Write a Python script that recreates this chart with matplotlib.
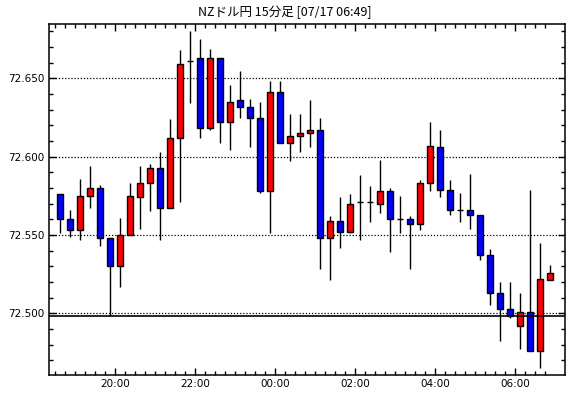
import numpy as np
import pandas as pd
import matplotlib
matplotlib.use("Agg")
import matplotlib.pyplot as plt
from matplotlib.ticker import MultipleLocator, FixedLocator

plt.rcParams['font.family'] = ['Noto Sans CJK JP', 'DejaVu Sans']

# 15-minute candles, 07/16 18:30 .. 07/17 06:45
times = pd.date_range("2024-07-16 18:30", periods=50, freq="15min")

opens = [72.576, 72.560, 72.553, 72.575, 72.580, 72.548, 72.530, 72.550, 72.574, 72.583,
         72.593, 72.567, 72.612, 72.661, 72.663, 72.618, 72.663, 72.622, 72.636, 72.632,
         72.625, 72.578, 72.641, 72.609, 72.613, 72.615, 72.617, 72.548, 72.559, 72.552,
         72.571, 72.571, 72.570, 72.578, 72.560, 72.560, 72.557, 72.583, 72.606, 72.579,
         72.566, 72.566, 72.563, 72.537, 72.513, 72.503, 72.492, 72.501, 72.476, 72.521]
highs = [72.576, 72.566, 72.586, 72.594, 72.582, 72.548, 72.561, 72.583, 72.594, 72.595,
         72.603, 72.624, 72.668, 72.680, 72.675, 72.669, 72.663, 72.646, 72.655, 72.637,
         72.635, 72.648, 72.648, 72.627, 72.627, 72.636, 72.625, 72.562, 72.574, 72.576,
         72.588, 72.581, 72.598, 72.580, 72.575, 72.562, 72.585, 72.622, 72.617, 72.585,
         72.577, 72.589, 72.563, 72.541, 72.520, 72.520, 72.513, 72.579, 72.545, 72.531]
lows = [72.551, 72.549, 72.547, 72.567, 72.543, 72.498, 72.517, 72.550, 72.554, 72.565,
        72.547, 72.571, 72.571, 72.634, 72.612, 72.617, 72.609, 72.604, 72.625, 72.606,
        72.577, 72.551, 72.609, 72.597, 72.603, 72.606, 72.528, 72.521, 72.542, 72.551,
        72.547, 72.558, 72.564, 72.539, 72.551, 72.528, 72.553, 72.578, 72.574, 72.563,
        72.558, 72.554, 72.534, 72.505, 72.482, 72.497, 72.477, 72.476, 72.465, 72.521]
closes = [72.560, 72.553, 72.575, 72.580, 72.548, 72.530, 72.550, 72.575, 72.583, 72.593,
          72.567, 72.612, 72.659, 72.661, 72.618, 72.663, 72.622, 72.635, 72.632, 72.625,
          72.578, 72.641, 72.609, 72.613, 72.615, 72.617, 72.548, 72.559, 72.552, 72.570,
          72.571, 72.571, 72.578, 72.560, 72.560, 72.557, 72.583, 72.607, 72.579, 72.566,
          72.566, 72.563, 72.537, 72.513, 72.503, 72.498, 72.501, 72.476, 72.522, 72.526]

REF_LINE = 72.498
TITLE = "NZドル円 15分足 [07/17 06:49]"

UP_COLOR = "#ff0000"
DOWN_COLOR = "#0000ff"

fig = plt.figure(figsize=(5.70, 3.98), dpi=100)
ax = fig.add_axes([49 / 570, 23 / 398, 516 / 570, 351 / 398])

o = np.array(opens)
c = np.array(closes)
h = np.array(highs)
l = np.array(lows)
x = np.arange(len(o))

# wicks
ax.vlines(x, l, h, color="black", linewidth=1.0, zorder=2)

# bodies
colors = np.where(c > o, UP_COLOR, np.where(c < o, DOWN_COLOR, "black"))
bottoms = np.minimum(o, c)
heights = np.abs(c - o)
ax.bar(x, heights, bottom=bottoms, width=0.6, color=colors,
       edgecolor="black", linewidth=1.0, zorder=3)

# reference line
ax.axhline(REF_LINE, color="black", linewidth=1.2, zorder=4)

# axes
ax.set_xlim(-1.1, 50.5)
ax.set_ylim(72.4606, 72.6847)

major_y = [72.500, 72.550, 72.600, 72.650]
ax.yaxis.set_major_locator(FixedLocator(major_y))
ax.yaxis.set_minor_locator(MultipleLocator(0.01))
ax.set_yticklabels([f"{v:.3f}" for v in major_y])
for v in major_y:
    ax.axhline(v, color="black", linewidth=0.9, linestyle=(0, (1, 1.5)), zorder=1)

major_idx = [i for i, t in enumerate(times) if t.minute == 0 and t.hour % 2 == 0]
ax.xaxis.set_major_locator(FixedLocator([i - 0.5 for i in major_idx]))
ax.xaxis.set_minor_locator(FixedLocator(x - 0.5))
ax.set_xticklabels([times[i].strftime("%H:%M") for i in major_idx])

ax.tick_params(which="both", direction="in", top=True, right=True,
               color="black", labelsize=7.5, labelcolor="black", pad=3)
ax.tick_params(which="major", length=5, width=1)
ax.tick_params(which="minor", length=3, width=1)
for lab in ax.get_xticklabels() + ax.get_yticklabels():
    lab.set_family("DejaVu Sans")
for s in ax.spines.values():
    s.set_linewidth(1.1)
    s.set_color("black")

fig.text(0.5, 1 - 12 / 398, TITLE, ha="center", va="center", fontsize=9)

fig.savefig("out.png", dpi=100, facecolor="white")
